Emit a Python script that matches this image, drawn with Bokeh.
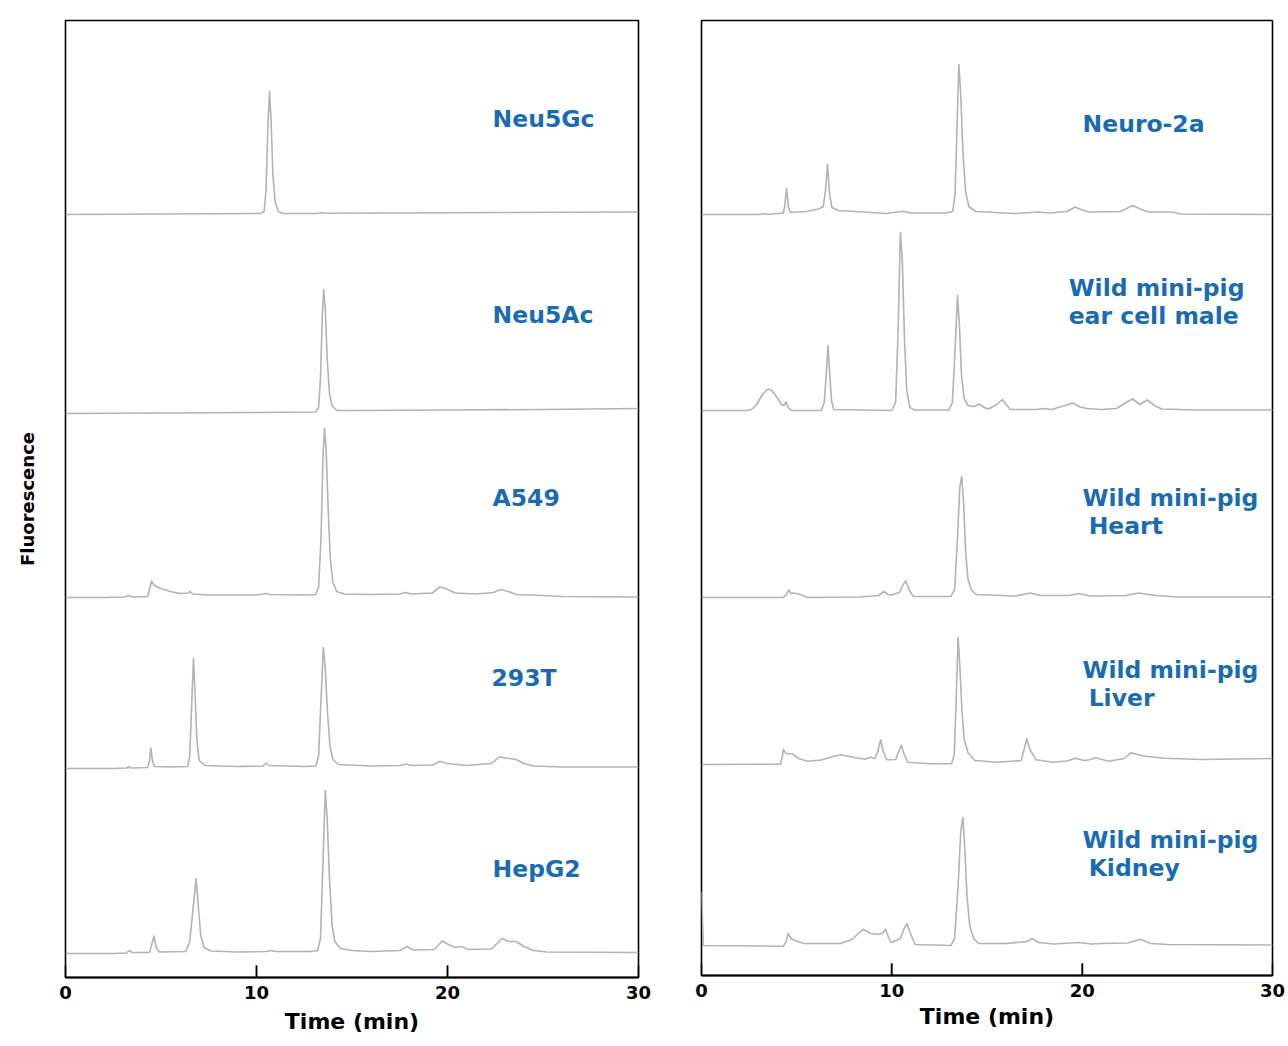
from bokeh.plotting import figure
from bokeh.layouts import row
from bokeh.models import Range1d, FixedTicker
from bokeh.embed import file_html
from bokeh.resources import INLINE
from bokeh.core.properties import value

# ---------------- data (time in min, signal in fluorescence a.u.) ----------------
neu5gc_t = [0, 5, 8, 10.2, 10.4, 10.5, 10.6, 10.68, 10.76, 10.86, 10.98, 11.15, 11.4, 13.2, 13.4, 13.7, 20, 30]
neu5gc_v = [0, 0.5, 0.8, 1, 3, 25, 90, 123, 95, 40, 12, 3, 1, 1, 1.8, 1.2, 1.8, 2.5]

neu5ac_t = [0, 5, 10, 13.1, 13.25, 13.35, 13.45, 13.52, 13.6, 13.7, 13.82, 13.95, 14.2, 15, 20, 25, 30]
neu5ac_v = [0, 0.5, 1, 1.5, 6, 35, 100, 124, 105, 55, 20, 8, 3, 3, 3.5, 4, 5]

a549_t = [0, 2, 3.1, 3.3, 3.5, 4.3, 4.4, 4.5, 4.65, 5, 5.5, 6, 6.4, 6.52, 6.65, 7.5, 10, 10.5, 10.7, 12.5,
          13.1, 13.25, 13.38, 13.48, 13.56, 13.64, 13.74, 13.86, 14.0, 14.2, 14.6, 16, 17.5, 17.8, 18.1,
          19.2, 19.6, 19.9, 20.4, 21.5, 22.4, 22.8, 23.2, 23.6, 25, 26, 30]
a549_v = [0, 0, 0.5, 2, 0.5, 1, 8, 16.5, 12, 9, 6, 4, 4.5, 6, 3.5, 2.5, 2.5, 4, 3, 2.5,
          3, 10, 60, 140, 169, 150, 95, 40, 15, 6, 3.5, 3, 3.5, 5, 3.5,
          4.5, 10.5, 9, 4.5, 3.5, 5, 8, 6, 3, 2, 1, 0.5]

t293_t = [0, 2.5, 3.2, 3.3, 3.4, 4.3, 4.4, 4.47, 4.55, 4.65, 5.5, 6.4, 6.5, 6.6, 6.7, 6.78, 6.88, 7.0, 7.3,
          9, 10.35, 10.5, 10.65, 12.5, 13.1, 13.25, 13.38, 13.5, 13.6, 13.72, 13.85, 14.0, 14.3, 16, 17.5,
          17.8, 18.1, 19.2, 19.6, 20.0, 21, 22.3, 22.7, 23.1, 23.6, 24.0, 24.5, 26, 30]
t293_v = [0, 0, 0.5, 2, 0.5, 1, 8, 20.5, 8, 2, 1.5, 2, 12, 60, 110, 75, 28, 8, 3,
          2, 2.5, 5.5, 3, 2, 2.5, 12, 70, 121, 100, 55, 22, 9, 4, 2.5, 3,
          4.5, 3, 3.5, 7, 5, 3, 5, 11.5, 10.5, 9, 5, 2.5, 1.5, 1.5]

hepg2_t = [0, 2.5, 3.2, 3.33, 3.5, 4.4, 4.5, 4.63, 4.75, 4.9, 6.3, 6.5, 6.68, 6.84, 6.95, 7.08, 7.25, 7.6,
           9, 10.5, 10.75, 11, 12.8, 13.2, 13.35, 13.48, 13.6, 13.7, 13.82, 13.95, 14.1, 14.4, 15, 16,
           17.5, 17.87, 18.2, 19.3, 19.72, 20.1, 20.4, 20.72, 21.1, 22.3, 22.87, 23.2, 23.6, 24.0, 24.5, 25.2, 30]
hepg2_v = [0, 0, 0.5, 3, 1, 1, 8, 17.5, 6, 1.5, 2, 12, 45, 75, 48, 18, 6, 2.5,
           1.5, 2, 3, 2, 2, 3, 15, 90, 163, 135, 75, 30, 12, 5, 3, 2,
           3, 7, 3.5, 4, 12.5, 8.5, 6, 7, 4, 4.5, 15, 12, 12, 7, 3, 1.5, 1]

neuro_t = [0, 3, 3.22, 3.5, 4.0, 4.3, 4.37, 4.47, 4.56, 4.68, 5.5, 6.15, 6.4, 6.52, 6.62, 6.72, 6.85, 7.2,
           8.5, 9.7, 10.59, 11, 12.8, 13.2, 13.32, 13.43, 13.52, 13.62, 13.74, 13.88, 14.05, 14.4, 16.5,
           17.7, 18.3, 19.2, 19.63, 20.0, 20.4, 22.0, 22.66, 23.1, 23.5, 24.7, 25.2, 30]
neuro_v = [0, 0, 0.8, 0, 1, 1.5, 8, 26, 8, 2, 3, 5.5, 8, 25, 50, 22, 7, 4,
           2.5, 1, 3.3, 1.5, 1.5, 3, 20, 90, 150, 120, 60, 22, 8, 3, 1,
           2.5, 1.5, 3, 7.5, 4.5, 2.5, 3, 9, 5, 2.5, 2.5, 0.5, 0]

ear_t = [0, 2.4, 2.63, 2.9, 3.2, 3.49, 3.69, 3.97, 4.2, 4.32, 4.45, 4.55, 4.74, 6.3, 6.45, 6.55, 6.65, 6.73,
         6.83, 6.95, 10.0, 10.2, 10.33, 10.45, 10.55, 10.66, 10.78, 10.95, 11.2, 13.0, 13.18, 13.32, 13.45,
         13.55, 13.66, 13.8, 14.0, 14.3, 14.6, 14.85, 15.08, 15.5, 15.81, 16.05, 16.23, 17.6, 17.96, 18.4,
         19.1, 19.49, 19.9, 20.25, 21.0, 21.8, 22.3, 22.65, 23.03, 23.42, 23.8, 24.18, 26, 30]
ear_v = [0, 0, 1, 6, 16, 21.5, 20, 13, 6, 5, 8.5, 3, 0, 0, 8, 35, 65, 38,
         10, 1, 0, 8, 80, 178, 150, 75, 20, 3, 0.5, 0.5, 8, 60, 115,
         85, 35, 12, 5, 4, 6.5, 3, 1.5, 6, 11, 5, 1, 1, 2, 1,
         5, 7.5, 3.5, 2, 1, 2, 8, 11.5, 6, 10.5, 5, 1.5, 0.5, 0.5]

heart_t = [0, 4.3, 4.45, 4.59, 4.7, 4.88, 5.18, 5.57, 8.3, 9.3, 9.57, 9.8, 9.96, 10.4, 10.6, 10.74, 10.9, 11.13,
           13.1, 13.3, 13.45, 13.57, 13.67, 13.77, 13.88, 14.0, 14.2, 14.45, 16.5, 17.28, 17.8, 19.3, 19.82,
           20.4, 22.3, 22.95, 23.9, 25, 30]
heart_v = [0, 0, 3, 7.5, 4, 4.5, 3, 0, 0.5, 2, 6, 3, 2.5, 5, 13, 16.5, 8, 1,
           1, 8, 60, 110, 121, 95, 45, 18, 7, 3, 1.5, 4.5, 2, 2, 4,
           1.5, 2, 4.5, 2, 0.5, 0.5]

liver_t = [0, 4.15, 4.25, 4.3, 4.45, 4.79, 5.1, 5.57, 6.3, 6.9, 7.32, 7.8, 8.1, 8.6, 8.89, 9.1, 9.25, 9.41,
           9.55, 9.73, 10.2, 10.35, 10.5, 10.65, 10.84, 12, 13.14, 13.28, 13.38, 13.48, 13.57, 13.68, 13.8,
           14.0, 14.36, 15.5, 16.8, 16.95, 17.09, 17.25, 17.58, 18.46, 19.2, 19.63, 20.1, 20.4, 20.7, 21.4,
           22.2, 22.56, 23.0, 23.34, 24.32, 26.27, 30]
liver_v = [0, 0.3, 8, 15, 11, 10.5, 6, 3.3, 4.5, 8, 9.7, 8, 6.7, 5.3, 7.3, 6, 12, 24.7,
           13, 4.7, 5, 12, 19.3, 10, 2.3, 0.7, 0.7, 10, 65, 127, 100, 55, 25,
           12, 4, 2.3, 4, 15, 25.7, 15, 4.7, 2.3, 3.5, 6.3, 4, 4.7, 6.7, 3.3,
           6, 11.7, 9.5, 8.3, 6.3, 5, 6]

kidney_t = [0, 0.1, 4.3, 4.45, 4.55, 4.7, 4.88, 5.37, 7.32, 7.9, 8.5, 8.89, 9.28, 9.5, 9.67, 9.85, 9.96, 10.45,
            10.65, 10.8, 10.95, 11.23, 13.1, 13.3, 13.48, 13.62, 13.73, 13.83, 13.95, 14.1, 14.3, 14.55, 16,
            17.1, 17.38, 17.7, 18.5, 19.82, 20.5, 21, 22.4, 23.05, 23.6, 24.5, 30]
kidney_v = [55, 1, 0.3, 5, 13, 8, 6.3, 3, 3, 7, 17.3, 13, 12.3, 13, 17.3, 8, 4, 8,
            18, 23, 14, 2, 1, 8, 60, 115, 129, 100, 50, 20, 8, 3, 3,
            5, 8, 4, 2.5, 4, 2.5, 3, 3.5, 7.3, 3, 2, 1.5]

left_names = ["Neu5Gc", "Neu5Ac", "A549", "293T", "HepG2"]
right_names = ["Neuro-2a", "Wild mini-pig ear cell male", "Wild mini-pig Heart",
               "Wild mini-pig Liver", "Wild mini-pig Kidney"]
left_series = [(neu5gc_t, neu5gc_v), (neu5ac_t, neu5ac_v), (a549_t, a549_v), (t293_t, t293_v), (hepg2_t, hepg2_v)]
right_series = [(neuro_t, neuro_v), (ear_t, ear_v), (heart_t, heart_v), (liver_t, liver_v), (kidney_t, kidney_v)]

x_ticks = [0, 10, 20, 30]

# ---------------- layout / style ----------------
left_offsets = [763, 564, 380, 209, 24]
right_offsets = [761, 565, 378, 211, 29]

left_lbl_text = ["Neu5Gc", "Neu5Ac", "A549", "293T", "HepG2"]
left_lbl_x = [22.36, 22.36, 22.36, 22.3, 22.36]
left_lbl_y = [859, 663, 480, 300, 109]

right_lbl_text = ["Neuro-2a", "Wild mini-pig", "ear cell male", "Wild mini-pig", "Heart",
                  "Wild mini-pig", "Liver", "Wild mini-pig", "Kidney"]
right_lbl_x = [20.02, 19.29, 19.29, 20.02, 20.34, 20.02, 20.34, 20.02, 20.34]
right_lbl_y = [852, 688, 660, 478, 450, 306, 278, 136, 108]

TRACE = "#b3b3b3"
BLUE = "#1a6cb2"
FONT = "DejaVu Sans"
TICK_LEN = 12  # y units are 1 px


def make_panel(series, offsets, lbl_text, lbl_x, lbl_y, frame_w, frame_h, border_l, border_r,
               title_standoff, show_ylabel):
    p = figure(frame_width=frame_w, frame_height=frame_h,
               x_range=Range1d(0, 30), y_range=Range1d(0, frame_h),
               output_backend="svg", toolbar_location=None,
               min_border_left=border_l, min_border_right=border_r, min_border_top=20, min_border_bottom=20)
    p.xgrid.visible = False
    p.ygrid.visible = False
    p.outline_line_color = "black"
    p.outline_line_width = 1.6
    p.background_fill_color = "white"
    p.border_fill_color = "white"

    for (t, v), off in zip(series, offsets):
        p.line(t, [off + s for s in v], line_color=TRACE, line_width=1.6, line_join="round")

    inner = x_ticks[1:-1]
    p.segment(x0=inner, y0=[0] * len(inner), x1=inner, y1=[TICK_LEN] * len(inner),
              line_color="black", line_width=1.5)

    p.text(x=lbl_x, y=lbl_y, text=lbl_text, text_color=BLUE, text_font=value(FONT),
           text_font_style="bold", text_font_size="23.5px", text_align="left", text_baseline="middle")

    xa = p.xaxis[0]
    xa.ticker = FixedTicker(ticks=x_ticks)
    xa.minor_tick_line_color = None
    xa.major_tick_in = TICK_LEN
    xa.major_tick_out = 0
    xa.major_tick_line_width = 1.5
    xa.major_tick_line_color = "black"
    xa.axis_line_color = "black"
    xa.axis_line_width = 2
    xa.major_label_text_font = FONT
    xa.major_label_text_font_style = "bold"
    xa.major_label_text_font_size = "18px"
    xa.major_label_text_color = "black"
    xa.major_label_standoff = 8
    xa.axis_label = "Time (min)"
    xa.axis_label_text_font = FONT
    xa.axis_label_text_font_style = "bold"
    xa.axis_label_text_font_size = "22px"
    xa.axis_label_text_color = "black"
    xa.axis_label_standoff = title_standoff

    ya = p.yaxis[0]
    ya.ticker = FixedTicker(ticks=[])
    ya.minor_tick_line_color = None
    ya.major_tick_in = 0
    ya.major_tick_out = 0
    ya.axis_line_color = None
    ya.major_label_text_font_size = "0px"
    if show_ylabel:
        ya.axis_label = "Fluorescence"
        ya.axis_label_text_font = FONT
        ya.axis_label_text_font_style = "bold"
        ya.axis_label_text_font_size = "18px"
        ya.axis_label_text_color = "black"
        ya.axis_label_standoff = 28
    else:
        ya.visible = False
    return p


p_left = make_panel(left_series, left_offsets, left_lbl_text, left_lbl_x, left_lbl_y,
                    573, 957, 65, 30, 7, True)
p_right = make_panel(right_series, right_offsets, right_lbl_text, right_lbl_x, right_lbl_y,
                     571, 955, 33, 14, 4, False)

layout = row(p_left, p_right)
open("out.html", "w").write(file_html(layout, INLINE))
